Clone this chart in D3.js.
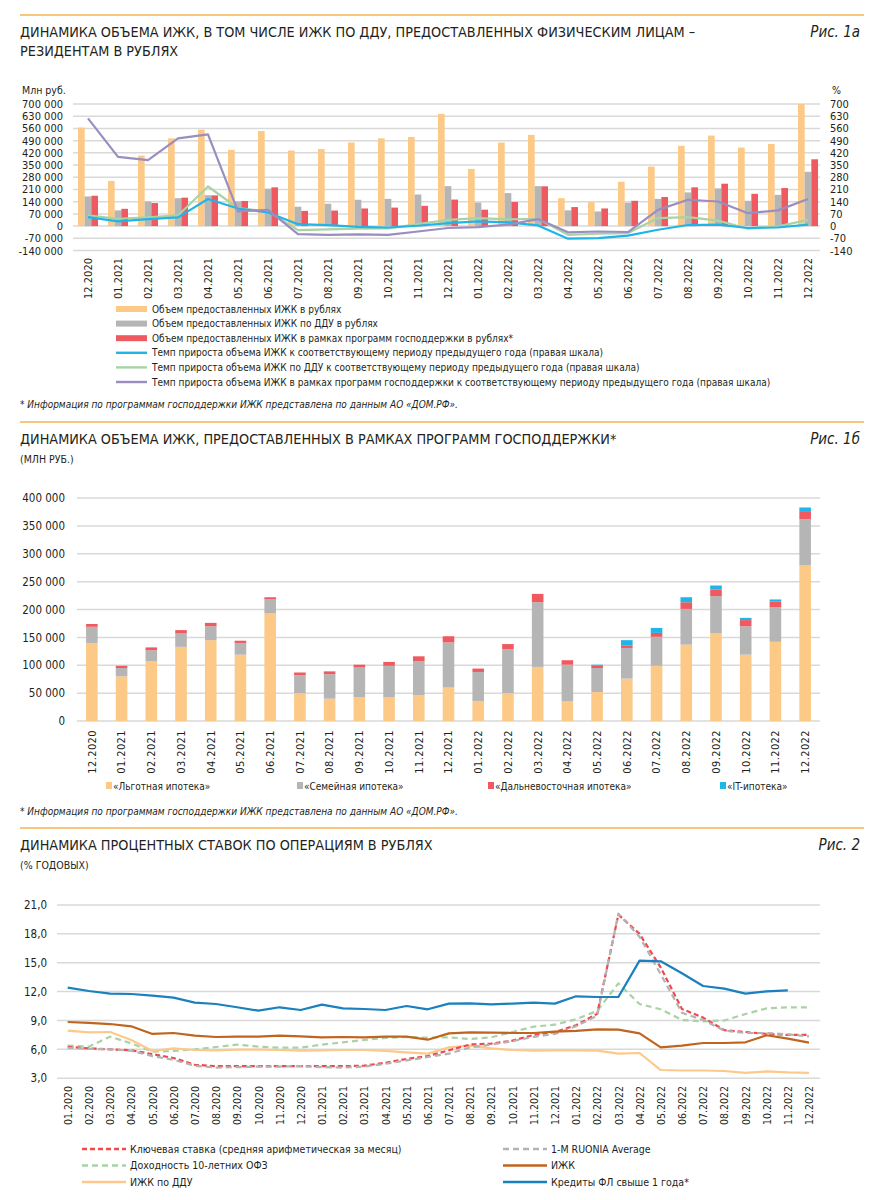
<!DOCTYPE html>
<html>
<head>
<meta charset="utf-8">
<script src="https://cdn.jsdelivr.net/npm/d3@7"></script>
<style>
  body { margin: 0; background: #fff; }
  text { font-family: "Liberation Sans Narrow", "DejaVu Sans Condensed", sans-serif; fill: #231f20; }
  .tick text { font-family: "Liberation Sans Narrow", "DejaVu Sans Condensed", sans-serif; fill: #231f20; }
</style>
</head>
<body>
<svg id="chart" width="879" height="1200"></svg>
<script>
// ---- data: fig 1a / 1b (monthly, 12.2020 - 12.2022)
const months = ["12.2020","01.2021","02.2021","03.2021","04.2021","05.2021","06.2021","07.2021","08.2021","09.2021","10.2021","11.2021","12.2021","01.2022","02.2022","03.2022","04.2022","05.2022","06.2022","07.2022","08.2022","09.2022","10.2022","11.2022","12.2022"];

// млн руб.
const izhkVolume = [565000,259000,404000,503000,553000,437000,545000,433000,442000,479000,503000,511000,643000,328000,479000,523000,160000,137000,254000,341000,460000,519000,450000,471000,700000];
const dduVolume  = [170000,90000,141000,160000,177000,141000,214000,111000,128000,151000,156000,181000,229000,135000,189000,229000,90000,84000,134000,156000,193000,216000,145000,179000,311000];
const govVolume  = [174000,99000,132000,163000,176000,144000,222000,87000,89000,101000,106000,116000,152000,94000,138000,228000,109000,101000,145000,167000,222000,243000,185000,218000,383000];

// %, right scale
const izhkGrowth = [51,27,40,50,155,101,78,11,6,-4,-8,2,17,27,21,4,-72,-69,-55,-21,6,8,-11,-8,8];
const dduGrowth  = [61,42,50,61,227,103,84,-23,-19,-15,-13,11,36,46,38,42,-50,-44,-40,46,51,31,-15,-2,36];
const govGrowth  = [618,397,378,503,526,84,93,-46,-50,-48,-50,-31,-11,-6,8,40,-36,-31,-34,93,151,141,74,90,155];

// fig 1b programs, млн руб.
const lgotnaya = [140000,80000,107000,133000,145000,119000,193000,50000,40000,43000,43000,46000,60000,36000,50000,97000,35000,52000,76000,99000,137000,157000,119000,142000,279000];
const semeynaya = [29000,15000,20000,24000,25000,21000,25000,32000,44000,53000,56000,61000,81000,52000,79000,116000,66000,43000,55000,52000,64000,67000,51000,62000,83000];
const dalnevost = [5000,4000,5000,6000,6000,4000,4000,5000,5000,5000,7000,9000,11000,6000,9000,15000,8000,4000,4000,7000,12000,12000,11000,10000,13000];
const itIpoteka = [0,0,0,0,0,0,0,0,0,0,0,0,0,0,0,0,0,2000,10000,9000,9000,7000,4000,4000,8000];

// ---- data: fig 2 (monthly, 01.2020 - 12.2022), % годовых
const months2 = ["01.2020","02.2020","03.2020","04.2020","05.2020","06.2020","07.2020","08.2020","09.2020","10.2020","11.2020","12.2020","01.2021","02.2021","03.2021","04.2021","05.2021","06.2021","07.2021","08.2021","09.2021","10.2021","11.2021","12.2021","01.2022","02.2022","03.2022","04.2022","05.2022","06.2022","07.2022","08.2022","09.2022","10.2022","11.2022","12.2022"];
const keyRate  = [6.25,6.1,6.0,5.9,5.5,5.1,4.4,4.25,4.25,4.25,4.25,4.25,4.25,4.25,4.3,4.6,5.0,5.3,5.9,6.5,6.6,6.9,7.5,7.8,8.5,9.7,20.0,18.0,14.5,10.2,9.3,8.0,7.8,7.6,7.5,7.5];
const ruonia   = [6.15,6.05,6.0,5.85,5.3,4.9,4.3,4.1,4.15,4.2,4.2,4.25,4.15,4.1,4.2,4.5,4.85,5.2,5.55,6.2,6.5,6.85,7.3,7.6,8.4,9.5,20.1,17.7,13.8,9.8,9.05,7.95,7.7,7.7,7.55,7.35];
const ofz10    = [6.38,6.28,7.32,6.62,5.76,5.83,6.0,6.24,6.49,6.28,6.17,6.17,6.49,6.73,6.97,7.18,7.28,7.21,7.25,7.07,7.25,7.8,8.36,8.56,9.12,9.99,12.86,10.71,10.16,9.05,8.91,9.0,9.67,10.26,10.37,10.37];
const izhkRate = [8.84,8.74,8.63,8.39,7.6,7.7,7.42,7.28,7.32,7.32,7.42,7.35,7.25,7.28,7.25,7.32,7.32,7.0,7.66,7.77,7.73,7.7,7.7,7.84,7.91,8.08,8.05,7.66,6.21,6.38,6.66,6.66,6.73,7.46,7.11,6.7];
const dduRate  = [7.94,7.77,7.8,6.97,5.83,6.1,5.93,5.9,5.97,5.97,5.93,5.86,5.9,5.93,5.93,5.83,5.69,5.55,6.21,6.38,6.1,5.93,5.86,5.9,5.9,5.86,5.55,5.62,3.85,3.8,3.8,3.75,3.55,3.7,3.6,3.55];
const creditRate = [12.41,12.06,11.79,11.75,11.58,11.37,10.85,10.71,10.37,10.02,10.37,10.09,10.64,10.26,10.19,10.09,10.5,10.16,10.75,10.78,10.68,10.75,10.85,10.75,11.51,11.44,11.44,15.22,15.15,13.9,12.58,12.31,11.79,12.03,12.13,null];

const ticks1 = [-140000,-70000,0,70000,140000,210000,280000,350000,420000,490000,560000,630000,700000];
const ticks1r = [-140,-70,0,70,140,210,280,350,420,490,560,630,700];
const ticks2 = [0,50000,100000,150000,200000,250000,300000,350000,400000];
const ticks3 = [3,6,9,12,15,18,21];

const ORANGE = "#fcc986", GRAY = "#b5b5b6", RED = "#ee5a5f", CYAN = "#1fb5e9",
      LGREEN = "#a9d3a5", PURPLE = "#9a8ec0", BROWN = "#c0651f", BLUE = "#1a80be",
      GRID = "#d9d9d9", RULE = "#f8c67c";

const svg = d3.select("#chart");
const spaced = v => d3.format(",")(v).replace(/,/g, " ").replace("−", "-");

function header(y, title, sub, fig) {
  svg.append("line").attr("x1", 20).attr("x2", 864).attr("y1", y).attr("y2", y)
    .attr("stroke", RULE).attr("stroke-width", 2);
  title.forEach((t, i) => svg.append("text").attr("x", 20).attr("y", y + 22 + i * 19)
    .attr("font-size", 14.3).text(t));
  if (sub) svg.append("text").attr("x", 20).attr("y", y + 41).attr("font-size", 10.5).text(sub);
  svg.append("text").attr("x", 860).attr("y", y + 22).attr("text-anchor", "end")
    .attr("font-size", 15).attr("font-style", "italic").text(fig);
}

function grid(g, scale, ticks, x0, x1) {
  g.selectAll(null).data(ticks).enter().append("line")
    .attr("x1", x0).attr("x2", x1)
    .attr("y1", d => scale(d)).attr("y2", d => scale(d))
    .attr("stroke", GRID).attr("stroke-width", 1.5);
}

function rotatedLabels(g) {
  g.select(".domain").remove();
  g.selectAll("text").attr("transform", "rotate(-90)").attr("text-anchor", "end")
    .attr("x", -3).attr("y", 0).attr("dy", "0.35em");
}

// ================= Fig 1a
header(15, ["ДИНАМИКА ОБЪЕМА ИЖК, В ТОМ ЧИСЛЕ ИЖК ПО ДДУ, ПРЕДОСТАВЛЕННЫХ ФИЗИЧЕСКИМ ЛИЦАМ –", "РЕЗИДЕНТАМ В РУБЛЯХ"], null, "Рис. 1а");

const x1 = d3.scaleBand().domain(months).range([73, 823]);
const sub1 = d3.scaleBand().domain([0, 1, 2]).range([5, 25]);
const y1 = d3.scaleLinear().domain([-140000, 700000]).range([250.5, 104]);
const y1r = d3.scaleLinear().domain([-140, 700]).range([250.5, 104]);

const g1 = svg.append("g");
grid(g1, y1, ticks1, 73, 820);

svg.append("text").attr("x", 22).attr("y", 94).attr("font-size", 10.5).text("Млн руб.");
svg.append("text").attr("x", 832).attr("y", 94).attr("font-size", 10.5).text("%");

svg.append("g").attr("transform", "translate(66,0)")
  .call(d3.axisLeft(y1).tickValues(ticks1).tickSize(0).tickFormat(spaced))
  .call(g => g.select(".domain").remove())
  .call(g => g.selectAll("text").attr("font-size", 11));
svg.append("g").attr("transform", "translate(827,0)")
  .call(d3.axisRight(y1r).tickValues(ticks1r).tickSize(0).tickFormat(d => String(d)))
  .call(g => g.select(".domain").remove())
  .call(g => g.selectAll("text").attr("font-size", 11));

const barSeries1 = [
  { vals: izhkVolume, color: ORANGE },
  { vals: dduVolume, color: GRAY },
  { vals: govVolume, color: RED }
];
barSeries1.forEach((s, k) => {
  g1.selectAll(null).data(s.vals).enter().append("rect")
    .attr("x", (d, i) => x1(months[i]) + sub1(k))
    .attr("width", sub1.bandwidth())
    .attr("y", d => y1(Math.max(0, d)))
    .attr("height", d => Math.abs(y1(d) - y1(0)))
    .attr("fill", s.color);
});

const line1 = d3.line().x((d, i) => x1(months[i]) + x1.bandwidth() / 2).y(d => y1r(d));
[[dduGrowth, LGREEN], [izhkGrowth, CYAN], [govGrowth, PURPLE]].forEach(([vals, c]) => {
  g1.append("path").datum(vals).attr("d", line1).attr("fill", "none")
    .attr("stroke", c).attr("stroke-width", 2.2).attr("stroke-linejoin", "round");
});

svg.append("g").attr("transform", "translate(0,255)")
  .call(d3.axisBottom(x1).tickSize(0))
  .call(rotatedLabels)
  .call(g => g.selectAll("text").attr("font-size", 11));

const legend1 = [
  { t: "Объем предоставленных ИЖК в рублях", c: ORANGE, bar: true },
  { t: "Объем предоставленных ИЖК по ДДУ в рублях", c: GRAY, bar: true },
  { t: "Объем предоставленных ИЖК в рамках программ господдержки в рублях*", c: RED, bar: true },
  { t: "Темп прироста объема ИЖК к соответствующему периоду предыдущего года (правая шкала)", c: CYAN },
  { t: "Темп прироста объема ИЖК по ДДУ к соответствующему периоду предыдущего года (правая шкала)", c: LGREEN },
  { t: "Темп прироста объема ИЖК в рамках программ господдержки к соответствующему периоду предыдущего года (правая шкала)", c: PURPLE }
];
const lg1 = svg.append("g").selectAll("g").data(legend1).enter().append("g")
  .attr("transform", (d, i) => `translate(116,${309 + i * 14.6})`);
lg1.append("rect").attr("x", 0).attr("width", 31)
  .attr("y", d => d.bar ? -3 : -1.2).attr("height", d => d.bar ? 6 : 2.4)
  .attr("fill", d => d.c);
lg1.append("text").attr("x", 36).attr("dy", "0.35em").attr("font-size", 10).text(d => d.t);

svg.append("text").attr("x", 20).attr("y", 408).attr("font-size", 10).attr("font-style", "italic")
  .text("* Информация по программам господдержки ИЖК представлена по данным АО «ДОМ.РФ».");

// ================= Fig 1b
header(422, ["ДИНАМИКА ОБЪЕМА ИЖК, ПРЕДОСТАВЛЕННЫХ В РАМКАХ ПРОГРАММ ГОСПОДДЕРЖКИ*"], "(МЛН РУБ.)", "Рис. 1б");

const x2 = d3.scaleBand().domain(months).range([77, 820]).paddingInner(0.61).paddingOuter(0.305);
const y2 = d3.scaleLinear().domain([0, 400000]).range([721, 498]);
const g2 = svg.append("g");
grid(g2, y2, ticks2, 77, 820);

svg.append("g").attr("transform", "translate(68,0)")
  .call(d3.axisLeft(y2).tickValues(ticks2).tickSize(0).tickFormat(spaced))
  .call(g => g.select(".domain").remove())
  .call(g => g.selectAll("text").attr("font-size", 11.5));

const progKeys = ["lgot", "sem", "dv", "it"];
const progColors = [ORANGE, GRAY, RED, CYAN];
const progNames = ["«Льготная ипотека»", "«Семейная ипотека»", "«Дальневосточная ипотека»", "«IT-ипотека»"];
const progRows = months.map((m, i) => ({ m, lgot: lgotnaya[i], sem: semeynaya[i], dv: dalnevost[i], it: itIpoteka[i] }));
const stacked = d3.stack().keys(progKeys)(progRows);
g2.selectAll("g.layer").data(stacked).enter().append("g").attr("class", "layer")
  .attr("fill", (d, i) => progColors[i])
  .selectAll("rect").data(d => d).enter().append("rect")
  .attr("x", d => x2(d.data.m)).attr("width", x2.bandwidth())
  .attr("y", d => y2(d[1])).attr("height", d => y2(d[0]) - y2(d[1]));

svg.append("g").attr("transform", "translate(0,727)")
  .call(d3.axisBottom(x2).tickSize(0))
  .call(rotatedLabels)
  .call(g => g.selectAll("text").attr("font-size", 11).attr("letter-spacing", 0.4));

const legX2 = [106, 297, 488, 720];
const lg2 = svg.append("g").selectAll("g").data(progNames).enter().append("g")
  .attr("transform", (d, i) => `translate(${legX2[i]},787)`);
lg2.append("rect").attr("x", 0).attr("y", -5).attr("width", 6).attr("height", 7).attr("fill", (d, i) => progColors[i]);
lg2.append("text").attr("x", 7).attr("dy", "0.3em").attr("font-size", 10).text(d => d);

svg.append("text").attr("x", 20).attr("y", 815).attr("font-size", 10).attr("font-style", "italic")
  .text("* Информация по программам господдержки ИЖК представлена по данным АО «ДОМ.РФ».");

// ================= Fig 2
header(828, ["ДИНАМИКА ПРОЦЕНТНЫХ СТАВОК ПО ОПЕРАЦИЯМ В РУБЛЯХ"], "(% ГОДОВЫХ)", "Рис. 2");

const x3 = d3.scalePoint().domain(months2).range([67.7, 809]);
const y3 = d3.scaleLinear().domain([3, 21]).range([1078.2, 905]);
const g3 = svg.append("g");
grid(g3, y3, ticks3, 57, 820);

svg.append("g").attr("transform", "translate(50,0)")
  .call(d3.axisLeft(y3).tickValues(ticks3).tickSize(0).tickFormat(d => d3.format(".1f")(d).replace(".", ",")))
  .call(g => g.select(".domain").remove())
  .call(g => g.selectAll("text").attr("font-size", 11.5));

const rateSeries = [
  { t: "Ключевая ставка (средняя арифметическая за месяц)", v: keyRate, c: "#f0484c", dash: "5,3" },
  { t: "Доходность 10-летних ОФЗ", v: ofz10, c: LGREEN, dash: "6,4" },
  { t: "ИЖК по ДДУ", v: dduRate, c: "#fdc98a" },
  { t: "1-M RUONIA Average", v: ruonia, c: "#b3b3b3", dash: "6,4" },
  { t: "ИЖК", v: izhkRate, c: BROWN },
  { t: "Кредиты ФЛ свыше 1 года*", v: creditRate, c: BLUE }
];
const line3 = d3.line().defined(d => d != null).x((d, i) => x3(months2[i])).y(d => y3(d));
const drawOrder = [1, 2, 0, 3, 4, 5];
drawOrder.forEach(k => {
  const s = rateSeries[k];
  g3.append("path").datum(s.v).attr("d", line3).attr("fill", "none")
    .attr("stroke", s.c).attr("stroke-width", 2.2).attr("stroke-linejoin", "round")
    .attr("stroke-dasharray", s.dash || null);
});

svg.append("g").attr("transform", "translate(0,1083)")
  .call(d3.axisBottom(x3).tickSize(0))
  .call(rotatedLabels)
  .call(g => g.selectAll("text").attr("font-size", 10.5));

const lg3 = svg.append("g").selectAll("g").data(rateSeries).enter().append("g")
  .attr("transform", (d, i) => `translate(${i < 3 ? 82 : 503},${1149 + (i % 3) * 16.5})`);
lg3.append("line").attr("x1", 0).attr("x2", 44).attr("stroke", d => d.c).attr("stroke-width", 2.5)
  .attr("stroke-dasharray", d => d.dash || null);
lg3.append("text").attr("x", 48).attr("dy", "0.35em").attr("font-size", 10.5).text(d => d.t);
</script>
</body>
</html>
